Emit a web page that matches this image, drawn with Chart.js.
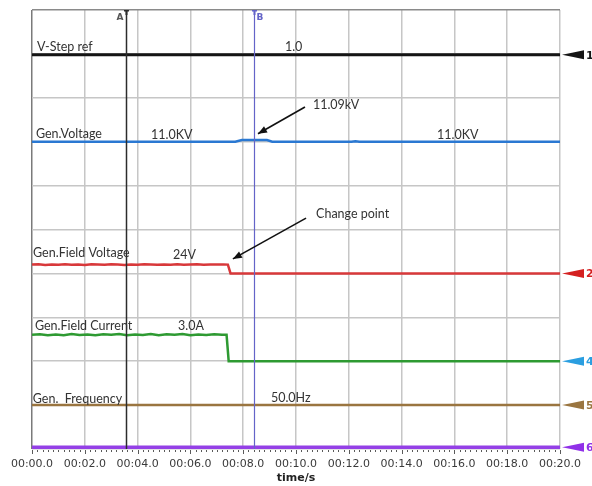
<!DOCTYPE html>
<html>
<head>
<meta charset="utf-8">
<script src="https://cdn.jsdelivr.net/npm/chart.js@4.4.1/dist/chart.umd.min.js"></script>
<style>
  html, body { margin: 0; padding: 0; background: #fff; }
  #wrap { width: 592px; height: 486px; }
</style>
</head>
<body>
<div id="wrap"><canvas id="scope" width="592" height="486"></canvas></div>
<script>
// Time axis labels (mm:ss.s), one per 2 s division
const timeTicks = ['00:00.0', '00:02.0', '00:04.0', '00:06.0', '00:08.0', '00:10.0',
                   '00:12.0', '00:14.0', '00:16.0', '00:18.0', '00:20.0'];

// Recorded channels, [time s, value]
const stepRef = [[0, 1.0], [20, 1.0]];                                   // p.u.
const genVoltage = [[0, 11.0], [7.7, 11.0], [7.95, 11.09], [8.9, 11.09], [9.1, 11.0],
                    [12.1, 11.0], [12.25, 11.03], [12.4, 11.0], [20, 11.0]];   // kV
const fieldVoltage = [[0, 24.0], [0.25, 24.3], [0.5, 23.7], [0.75, 24.2], [1, 23.8], [1.25, 24.4],
                      [1.5, 23.9], [1.75, 24.2], [2, 23.7], [2.25, 24.3], [2.5, 24.0], [2.75, 23.8],
                      [3, 24.4], [3.25, 24.0], [3.5, 23.7], [3.75, 24.2], [4, 23.9], [4.25, 24.3],
                      [4.5, 24.0], [4.75, 23.8], [5, 24.2], [5.25, 23.9], [5.5, 24.4], [5.75, 23.8],
                      [6, 24.1], [6.25, 24.3], [6.5, 23.9], [6.75, 24.2], [7, 24.0], [7.25, 24.1],
                      [7.42, 24.0], [7.52, 16.0], [20, 16.0]];          // V
const fieldCurrent = [[0, 3.0], [0.3, 3.03], [0.6, 2.98], [0.9, 3.02], [1.2, 2.98], [1.5, 3.04],
                      [1.8, 2.99], [2.1, 3.02], [2.4, 2.98], [2.7, 3.03], [3.0, 3.0], [3.3, 3.04],
                      [3.6, 2.98], [3.9, 3.02], [4.2, 2.99], [4.5, 3.04], [4.8, 2.98], [5.1, 3.03],
                      [5.4, 3.0], [5.7, 3.04], [6.0, 2.98], [6.3, 3.02], [6.6, 2.99], [6.9, 3.03],
                      [7.2, 3.0], [7.37, 3.0], [7.45, 1.8], [20, 1.8]];  // A
const genFrequency = [[0, 50.0], [20, 50.0]];                            // Hz
const channel6 = [[0, 0], [20, 0]];

// Channel titles and value captions
const channelNames = ['V-Step ref', 'Gen.Voltage', 'Gen.Field Voltage', 'Gen.Field Current', 'Gen.  Frequency'];
const valueCaptions = ['1.0', '11.0KV', '11.0KV', '11.09kV', '24V', '3.0A', '50.0Hz'];
const noteText = 'Change point';

// Cursor times (s)
const cursorTimes = [3.56, 8.41];
const cursorNames = ['A', 'B'];

// Per-channel vertical scaling: [min, max] over the 10 screen divisions
const chRange = {
  c1: [-3.49, 1.51],    // 0.5 p.u./div
  c2: [-6.5, 18.5],     // 2.5 kV/div
  c3: [-144, 256],      // 40 V/div
  c4: [-2.2, 17.8],     // 2 A/div
  c5: [45, 95],         // 5 Hz/div
  c6: [-0.04, 9.96]
};

const toXY = arr => arr.map(p => ({ x: p[0], y: p[1] }));

const traceColors = ['#151515', '#2a78d2', '#d8383a', '#2e9a32', '#9a7540', '#9440e6'];
const markerColors = ['#151515', '#d42020', '#2a9ee0', '#9a7540', '#9030e8'];
const markerDigits = ['1', '2', '4', '5', '6'];

const series = [stepRef, genVoltage, fieldVoltage, fieldCurrent, genFrequency, channel6];
const axisIds = ['c1', 'c2', 'c3', 'c4', 'c5', 'c6'];
const widths = [3, 2.5, 2.5, 2.5, 2.5, 3.5];

const datasets = series.map((s, i) => ({
  data: toXY(s),
  yAxisID: axisIds[i],
  borderColor: traceColors[i],
  borderWidth: widths[i],
  pointRadius: 0,
  tension: 0,
  fill: false
}));

const yScales = {};
axisIds.forEach(id => {
  yScales[id] = { type: 'linear', display: false, min: chRange[id][0], max: chRange[id][1] };
});

function arrow(ctx, x0, y0, x1, y1) {
  ctx.beginPath();
  ctx.moveTo(x0, y0);
  ctx.lineTo(x1, y1);
  ctx.stroke();
  const ang = Math.atan2(y1 - y0, x1 - x0);
  const L = 9, W = 3.6;
  ctx.beginPath();
  ctx.moveTo(x1, y1);
  ctx.lineTo(x1 - L * Math.cos(ang) + W * Math.sin(ang), y1 - L * Math.sin(ang) - W * Math.cos(ang));
  ctx.lineTo(x1 - L * Math.cos(ang) - W * Math.sin(ang), y1 - L * Math.sin(ang) + W * Math.cos(ang));
  ctx.closePath();
  ctx.fill();
}

const scopeOverlay = {
  id: 'scopeOverlay',
  afterDatasetsDraw(chart) {
    const { ctx, chartArea: a, scales } = chart;
    const X = t => scales.x.getPixelForValue(t);
    const D = v => scales.div.getPixelForValue(v);
    ctx.save();

    // minor / major time ticks below the plot
    ctx.strokeStyle = '#5a5a5a';
    ctx.lineWidth = 1;
    for (let i = 0; i <= 100; i++) {
      const px = Math.round(X(i * 0.2)) + 0.5;
      ctx.beginPath();
      ctx.moveTo(px, a.bottom + 1);
      ctx.lineTo(px, a.bottom + (i % 10 === 0 ? 5 : 3));
      ctx.stroke();
    }

    // cursors
    cursorTimes.forEach((t, i) => {
      const px = Math.round(X(t)) + 0.5;
      const col = i === 0 ? '#2c2c2c' : '#6464c8';
      ctx.strokeStyle = col;
      ctx.fillStyle = col;
      ctx.lineWidth = i === 0 ? 1.5 : 1.2;
      ctx.beginPath();
      ctx.moveTo(px, a.top);
      ctx.lineTo(px, a.bottom);
      ctx.stroke();
      ctx.fillRect(px - 2.5, a.top, 5, 1.5);
      ctx.fillRect(px - 1, a.top, 2, 5);
      ctx.font = 'bold 9px "DejaVu Sans"';
      ctx.textBaseline = 'top';
      if (i === 0) {
        ctx.fillStyle = '#555';
        ctx.textAlign = 'right';
        ctx.fillText(cursorNames[i], px - 3, a.top + 3);
      } else {
        ctx.textAlign = 'left';
        ctx.fillText(cursorNames[i], px + 2, a.top + 3);
      }
    });

    // channel titles and value captions, placed in (time, division) coordinates
    ctx.fillStyle = '#333';
    ctx.font = '12.5px Lato';
    ctx.textAlign = 'left';
    ctx.textBaseline = 'alphabetic';
    const titlePos = [[0.19, 9.07], [0.15, 7.08], [0.04, 4.37], [0.11, 2.71], [0.03, 1.05]];
    channelNames.forEach((n, i) => ctx.fillText(n, X(titlePos[i][0]), D(titlePos[i][1])));
    const captionPos = [[9.58, 9.07], [4.51, 7.06], [15.34, 7.06], [10.64, 7.745], [5.34, 4.33], [5.53, 2.71], [9.05, 1.07]];
    valueCaptions.forEach((n, i) => ctx.fillText(n, X(captionPos[i][0]), D(captionPos[i][1])));
    ctx.fillText(noteText, X(10.76), D(5.26));

    // pointer arrows
    ctx.strokeStyle = '#111';
    ctx.fillStyle = '#111';
    ctx.lineWidth = 1.6;
    arrow(ctx, X(10.34), D(7.79), X(8.56), D(7.18));
    arrow(ctx, X(10.38), D(5.26), X(7.61), D(4.33));

    // channel position markers at the right edge
    const markerSeries = [0, 2, 3, 4, 5];
    markerSeries.forEach((si, k) => {
      const s = series[si];
      const y = chart.scales[axisIds[si]].getPixelForValue(s[s.length - 1][1]);
      const x0 = a.right + 2;
      ctx.fillStyle = markerColors[k];
      ctx.beginPath();
      ctx.moveTo(x0, y);
      ctx.lineTo(x0 + 10, y - 2);
      ctx.lineTo(x0 + 22, y - 4.5);
      ctx.lineTo(x0 + 22, y + 4.5);
      ctx.lineTo(x0 + 10, y + 2);
      ctx.closePath();
      ctx.fill();
      ctx.font = 'bold 11px "DejaVu Sans"';
      ctx.textAlign = 'left';
      ctx.textBaseline = 'middle';
      ctx.fillText(markerDigits[k], x0 + 24, y + 1);
    });

    ctx.restore();
  }
};

new Chart(document.getElementById('scope'), {
  type: 'line',
  data: { datasets },
  options: {
    responsive: false,
    animation: false,
    events: [],
    layout: { padding: { left: 32, right: 32, top: 10, bottom: 0 } },
    plugins: { legend: { display: false }, tooltip: { enabled: false } },
    scales: Object.assign({
      x: {
        type: 'linear',
        min: 0,
        max: 20,
        afterFit: s => { s.height = 37; },
        grid: {
          drawTicks: false,
          lineWidth: 1.5,
          color: c => (c.tick && c.tick.value === 0) ? '#7a7a7a' : '#c6c6c6'
        },
        border: { display: false },
        ticks: {
          stepSize: 2,
          padding: 9,
          maxRotation: 0,
          autoSkip: false,
          color: '#3a3a3a',
          font: { family: '"DejaVu Sans"', size: 11 },
          callback: (v, i) => timeTicks[i]
        },
        title: {
          display: true,
          text: 'time/s',
          color: '#222',
          font: { family: '"DejaVu Sans"', size: 11, weight: 'bold' },
          padding: { top: 0, bottom: 1 }
        }
      },
      div: {
        type: 'linear',
        position: 'left',
        min: 0,
        max: 10,
        afterFit: s => { s.width = 0; },
        grid: {
          drawTicks: false,
          lineWidth: 1.5,
          color: c => (c.tick && c.tick.value === 10) ? '#8a8a8a' : '#c6c6c6'
        },
        border: { display: false },
        ticks: { display: false, stepSize: 1 }
      }
    }, yScales)
  },
  plugins: [scopeOverlay]
});
</script>
</body>
</html>
